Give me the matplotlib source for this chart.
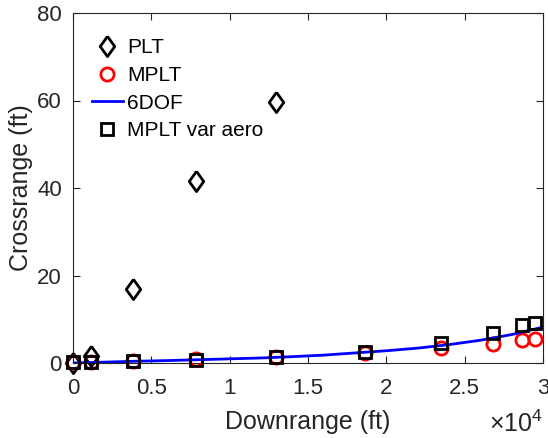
import matplotlib
matplotlib.use('Agg')
import matplotlib.pyplot as plt
from matplotlib.ticker import FuncFormatter
import numpy as np

plt.rcParams['font.family'] = ['Liberation Sans', 'DejaVu Sans']
plt.rcParams['mathtext.fontset'] = 'custom'
plt.rcParams['mathtext.rm'] = 'Liberation Sans'

# ---- data ----
plt_x = [0, 1150, 3830, 7850, 12950]
plt_y = [0, 1.7, 17.0, 41.7, 59.6]

mplt_x = [0, 1150, 3830, 7850, 12950, 18630, 23480, 26800, 28650, 29490]
mplt_y = [0.15, 0.15, 0.4, 0.9, 1.3, 2.4, 3.4, 4.3, 5.2, 5.4]

var_x = [0, 1150, 3830, 7850, 12950, 18630, 23480, 26800, 28650, 29490]
var_y = [0.15, 0.15, 0.45, 0.7, 1.3, 2.6, 4.6, 6.8, 8.7, 9.2]

dof_x = [0, 2000, 4000, 6000, 8000, 10000, 12000, 14000, 16000, 18000,
         20000, 22000, 24000, 26000, 28000, 30000]
dof_y = [0, 0.2, 0.4, 0.55, 0.75, 0.95, 1.15, 1.45, 1.8, 2.3,
         2.8, 3.4, 4.2, 5.2, 6.5, 8.2]

xticks = [0, 5000, 10000, 15000, 20000, 25000, 30000]
yticks = [0, 20, 40, 60, 80]

dark = '#262626'
# matlab style diamond (a bit wider than matplotlib's 'd')
diamond = [(0, 1), (0.72, 0), (0, -1), (-0.72, 0), (0, 1)]

fig = plt.figure(figsize=(5.48, 4.38), dpi=100)
ax = fig.add_axes([73/548, 1 - 363/438, 470/548, 350/438])

ax.plot(plt_x, plt_y, ls='none', marker=diamond, ms=14.5, mfc='none', mec='k', mew=2,
        label='PLT', clip_on=False, zorder=3)
ax.plot(mplt_x, mplt_y, 'o', ms=9.5, mfc='none', mec='red', mew=2, label='MPLT', clip_on=False, zorder=3)
ax.plot(dof_x, dof_y, '-', color='blue', lw=2, label='6DOF', zorder=4)
ax.plot(var_x, var_y, 's', ms=8, mfc='none', mec='k', mew=2, label='MPLT var aero', clip_on=False, zorder=5)

ax.set_xlim(0, 30000)
ax.set_ylim(0, 80)
ax.set_xticks(xticks)
ax.set_yticks(yticks)
ax.xaxis.set_major_formatter(FuncFormatter(lambda v, p: '%g' % (v / 1e4)))
ax.tick_params(direction='in', length=5, width=0.8, colors=dark, labelsize=16,
               top=True, right=True)
ax.tick_params(axis='x', pad=11)
ax.tick_params(axis='y', pad=8)
for s in ax.spines.values():
    s.set_color(dark)
    s.set_linewidth(0.8)

ax.set_xlabel('Downrange (ft)', fontsize=18, color=dark, labelpad=8)
ax.set_ylabel('Crossrange (ft)', fontsize=18, color=dark, labelpad=3)
fig.text(543/548, 1 - 432/438, r'$\times10^{4}$', fontsize=18,
         color=dark, ha='right', va='baseline')

ax.legend(loc='upper left', frameon=False, fontsize=15, handlelength=1.5,
          handletextpad=0.2, labelspacing=0.42, borderaxespad=0.3,
          bbox_to_anchor=(0.009, 0.97))

fig.savefig('out.png', dpi=100)
